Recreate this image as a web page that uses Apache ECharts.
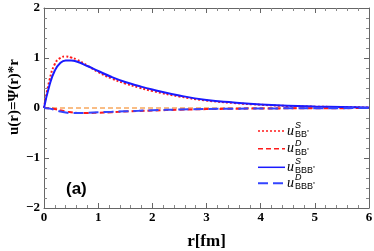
<!DOCTYPE html>
<html><head><meta charset="utf-8">
<script src="https://cdn.jsdelivr.net/npm/echarts@6/dist/echarts.min.js"></script>
<style>html,body{margin:0;padding:0;background:#fff}#c{width:374px;height:251px}</style>
</head><body><div id="c"></div>
<script>
const r      = [0,0.1,0.2,0.3,0.4,0.5,0.6,0.8,1.0,1.25,1.5,1.75,2.0,2.5,3.0,3.5,4,4.5,5,5.5,6];
const uS_BB  = [0,0.55,0.88,1.0,1.03,1.01,0.97,0.85,0.72,0.59,0.49,0.41,0.34,0.23,0.15,0.1,0.065,0.04,0.027,0.018,0.01];
const uD_BB  = [0,-0.005,-0.02,-0.045,-0.07,-0.085,-0.095,-0.1,-0.095,-0.085,-0.07,-0.06,-0.05,-0.035,-0.022,-0.015,-0.01,-0.007,-0.005,-0.003,-0.002];
const uS_BBB = [0,0.45,0.75,0.9,0.95,0.95,0.93,0.84,0.74,0.62,0.52,0.44,0.37,0.25,0.16,0.11,0.07,0.045,0.03,0.02,0.012];
const uD_BBB = [0,-0.01,-0.04,-0.07,-0.09,-0.1,-0.1,-0.095,-0.085,-0.075,-0.065,-0.055,-0.045,-0.03,-0.02,-0.014,-0.01,-0.007,-0.005,-0.003,-0.002];
const zeroRef = [0,0];
const zeroX = [0,6];
const xTicks = [0,1,2,3,4,5,6];
const yTicks = [-2,-1,0,1,2];
const legendSup = ['S','D','S','D'];
const legendSub = ['BB','BB','BBB','BBB'];

const pair = (xs, ys) => xs.map((x,i)=>[x,ys[i]]);
const chart = echarts.init(document.getElementById('c'));
const axisCommon = {
  axisLine:{show:true,onZero:false,lineStyle:{color:'#666',width:1}},
  axisTick:{show:true,inside:true,length:5,lineStyle:{color:'#666'}},
  minorTick:{show:true,splitNumber:5,length:3,lineStyle:{color:'#888'}},
  splitLine:{show:false}
};
const serif = 'Liberation Serif';
const styles = [
  {stroke:'#ff1a1a',lineWidth:1.5,lineDash:[2,2]},
  {stroke:'#ff1a1a',lineWidth:1.5,lineDash:[5,3]},
  {stroke:'#1a1aff',lineWidth:1.5,lineDash:null},
  {stroke:'#3344ff',lineWidth:2,lineDash:[10,5]}
];
const legendY = [131,148.7,167.3,183.3];
const graphics = [];
legendY.forEach((y,i)=>{
  graphics.push({type:'line',shape:{x1:258,y1:y,x2:285,y2:y},style:styles[i]});
  graphics.push({type:'text',left:287,top:y-7,style:{text:'u',font:'italic 14px '+serif,fill:'#000'}});
  graphics.push({type:'text',left:295,top:y-10,style:{text:legendSup[i],font:'italic 9px Liberation Sans',fill:'#000'}});
  graphics.push({type:'text',left:295,top:y-1,style:{text:legendSub[i],font:'9px Liberation Sans',fill:'#000'}});
  graphics.push({type:'text',left:295 + (legendSub[i].length===2?12:18),top:y-1,style:{text:'*',font:'5px Liberation Sans',fill:'#000'}});
});
graphics.push({type:'text',left:66,top:181,style:{text:'(a)',font:'bold 17px Liberation Sans',fill:'#000'}});
graphics.push({type:'text',x:14,y:97,rotation:Math.PI/2,
  style:{text:'u(r)=Ψ(r)*r',font:'bold 15px '+serif,fill:'#000',align:'center',verticalAlign:'middle'}});

chart.setOption({
  animation:false,
  grid:{left:44,right:5,top:8,bottom:43,containLabel:false,outerBoundsMode:'none'},
  xAxis:[
    Object.assign({type:'value',min:0,max:6,interval:1,position:'bottom',
      name:'r[fm]',nameLocation:'middle',nameGap:25,
      nameTextStyle:{fontFamily:serif,fontWeight:'bold',fontSize:17,color:'#000'},
      axisLabel:{fontFamily:serif,fontWeight:'bold',fontSize:13,color:'#000',margin:3}},axisCommon),
    Object.assign({type:'value',min:0,max:6,interval:1,position:'top',axisLabel:{show:false}},axisCommon)
  ],
  yAxis:[
    Object.assign({type:'value',min:-2,max:2,interval:1,position:'left',
      axisLabel:{fontFamily:serif,fontWeight:'bold',fontSize:13,color:'#000',margin:4,
        formatter:v=>v<0?'\u2212'+(-v):String(v)}},axisCommon),
    Object.assign({type:'value',min:-2,max:2,interval:1,position:'right',axisLabel:{show:false}},axisCommon)
  ],
  graphic:graphics,
  series:[
    {name:'zero',type:'line',data:pair(zeroX,zeroRef),symbol:'none',lineStyle:{color:'#f7a85e',width:1.5,type:[5,3]},z:1},
    {name:'uS_BB',type:'line',smooth:true,data:pair(r,uS_BB),symbol:'none',lineStyle:{color:'#ff1a1a',width:2,type:[2,2]}},
    {name:'uD_BB',type:'line',smooth:true,data:pair(r,uD_BB),symbol:'none',lineStyle:{color:'#ff1a1a',width:2,type:[5,3]}},
    {name:'uS_BBB',type:'line',smooth:true,data:pair(r,uS_BBB),symbol:'none',lineStyle:{color:'#1a1aff',width:2,type:'solid'}},
    {name:'uD_BBB',type:'line',smooth:true,data:pair(r,uD_BBB),symbol:'none',lineStyle:{color:'#3344ff',width:2,type:[10,5]}}
  ]
});
</script></body></html>
